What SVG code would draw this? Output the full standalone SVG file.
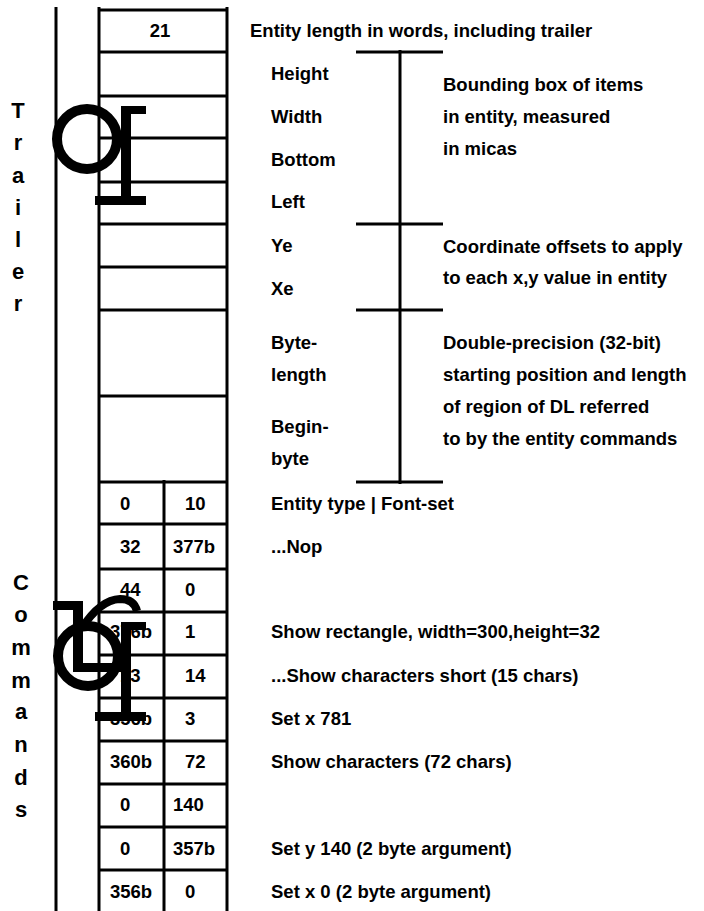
<svg xmlns="http://www.w3.org/2000/svg" width="704" height="911" viewBox="0 0 704 911">
<style>
text{font-family:"Liberation Sans",Arial,sans-serif;font-weight:bold;font-size:18.5px;fill:#000}
.ln{stroke:#000;stroke-width:3;fill:none}
.mid{text-anchor:middle}
.side{font-size:22px;text-anchor:middle}
.g{fill:#000}
.gs{stroke:#000;fill:none}
</style>
<rect width="704" height="911" fill="#fff"/>
<g id="frame">
<line class="ln" x1="56" y1="7" x2="56" y2="911"/>
<line class="ln" x1="99" y1="7" x2="99" y2="911"/>
<line class="ln" x1="227" y1="7" x2="227" y2="911"/>
<line class="ln" x1="164" y1="480" x2="164" y2="911"/>
<line class="ln" x1="99" y1="10" x2="227" y2="10"/>
<line class="ln" x1="99" y1="52" x2="227" y2="52"/>
<line class="ln" x1="99" y1="96" x2="227" y2="96"/>
<line class="ln" x1="99" y1="138" x2="227" y2="138"/>
<line class="ln" x1="99" y1="182" x2="227" y2="182"/>
<line class="ln" x1="99" y1="224" x2="227" y2="224"/>
<line class="ln" x1="99" y1="267" x2="227" y2="267"/>
<line class="ln" x1="99" y1="310" x2="227" y2="310"/>
<line class="ln" x1="99" y1="396" x2="227" y2="396"/>
<line class="ln" x1="99" y1="482" x2="227" y2="482"/>
<line class="ln" x1="99" y1="524" x2="227" y2="524" stroke-width="5"/>
<line class="ln" x1="99" y1="569" x2="227" y2="569"/>
<line class="ln" x1="99" y1="612" x2="227" y2="612"/>
<line class="ln" x1="99" y1="655" x2="227" y2="655"/>
<line class="ln" x1="99" y1="698" x2="227" y2="698"/>
<line class="ln" x1="99" y1="741" x2="227" y2="741"/>
<line class="ln" x1="99" y1="784" x2="227" y2="784"/>
<line class="ln" x1="99" y1="827" x2="227" y2="827"/>
<line class="ln" x1="99" y1="870" x2="227" y2="870"/>
</g>
<g id="side-labels">
<text x="18" y="118" class="side">T</text>
<text x="18" y="150" class="side">r</text>
<text x="18" y="183" class="side">a</text>
<text x="18" y="215" class="side">i</text>
<text x="18" y="247" class="side">l</text>
<text x="18" y="279" class="side">e</text>
<text x="18" y="311" class="side">r</text>
<text x="21" y="590" class="side">C</text>
<text x="21" y="622" class="side">o</text>
<text x="21" y="655" class="side">m</text>
<text x="21" y="688" class="side">m</text>
<text x="21" y="719" class="side">a</text>
<text x="21" y="752" class="side">n</text>
<text x="21" y="785" class="side">d</text>
<text x="21" y="817" class="side">s</text>
</g>
<g id="cells">
<text x="160" y="37" class="mid">21</text>
<text x="120" y="510">0</text><text x="185" y="510">10</text>
<text x="120" y="553">32</text><text x="173" y="553">377b</text>
<text x="120" y="596">44</text><text x="185" y="596">0</text>
<text x="110" y="638">376b</text><text x="185" y="638">1</text>
<text x="120" y="682">13</text><text x="185" y="682">14</text>
<text x="110" y="725">356b</text><text x="185" y="725">3</text>
<text x="110" y="768">360b</text><text x="185" y="768">72</text>
<text x="120" y="811">0</text><text x="173" y="811">140</text>
<text x="120" y="855">0</text><text x="173" y="855">357b</text>
<text x="110" y="898">356b</text><text x="185" y="898">0</text>
</g>
<g id="field-names">
<text x="250" y="37">Entity length in words, including trailer</text>
<text x="271" y="80">Height</text>
<text x="271" y="123">Width</text>
<text x="271" y="166">Bottom</text>
<text x="271" y="208">Left</text>
<text x="271" y="252">Ye</text>
<text x="271" y="295">Xe</text>
<text x="271" y="349">Byte-</text>
<text x="271" y="381">length</text>
<text x="271" y="433">Begin-</text>
<text x="271" y="465">byte</text>
<text x="271" y="510">Entity type | Font-set</text>
<text x="271" y="553">...Nop</text>
<text x="271" y="638">Show rectangle, width=300,height=32</text>
<text x="271" y="682">...Show characters short (15 chars)</text>
<text x="271" y="725">Set x 781</text>
<text x="271" y="768">Show characters (72 chars)</text>
<text x="271" y="855">Set y 140 (2 byte argument)</text>
<text x="271" y="898">Set x 0 (2 byte argument)</text>
</g>
<g id="brackets">
<line class="ln" x1="400" y1="50" x2="400" y2="484"/>
<line class="ln" x1="356" y1="52" x2="443" y2="52"/>
<line class="ln" x1="356" y1="224" x2="443" y2="224"/>
<line class="ln" x1="356" y1="310" x2="443" y2="310"/>
<line class="ln" x1="356" y1="482" x2="443" y2="482"/>
</g>
<g id="descriptions">
<text x="443" y="91">Bounding box of items</text>
<text x="443" y="123">in entity, measured</text>
<text x="443" y="155">in micas</text>
<text x="443" y="253">Coordinate offsets to apply</text>
<text x="443" y="284">to each x,y value in entity</text>
<text x="443" y="349">Double-precision (32-bit)</text>
<text x="443" y="381">starting position and length</text>
<text x="443" y="413">of region of DL referred</text>
<text x="443" y="445">to by the entity commands</text>
</g>
<g id="mark-trailer">
<circle class="gs" cx="87" cy="139" r="30" stroke-width="10"/>
<rect class="g" x="121" y="106" width="25" height="8"/>
<rect class="g" x="121" y="106" width="10" height="98"/>
<rect class="g" x="95" y="196" width="51" height="9"/>
</g>
<g id="mark-commands">
<circle class="gs" cx="88" cy="656" r="30" stroke-width="10"/>
<rect class="g" x="121" y="622" width="25" height="8"/>
<rect class="g" x="121" y="622" width="10" height="98"/>
<rect class="g" x="95" y="712" width="51" height="9"/>
<rect class="g" x="53" y="601" width="30" height="9"/>
<rect class="g" x="73" y="601" width="10" height="71"/>
<rect class="g" x="73" y="663" width="49" height="9"/>
<path class="gs" d="M82 628 Q100 600 120 599 Q134 599 137 611" stroke-width="8"/>
</g>
</svg>
